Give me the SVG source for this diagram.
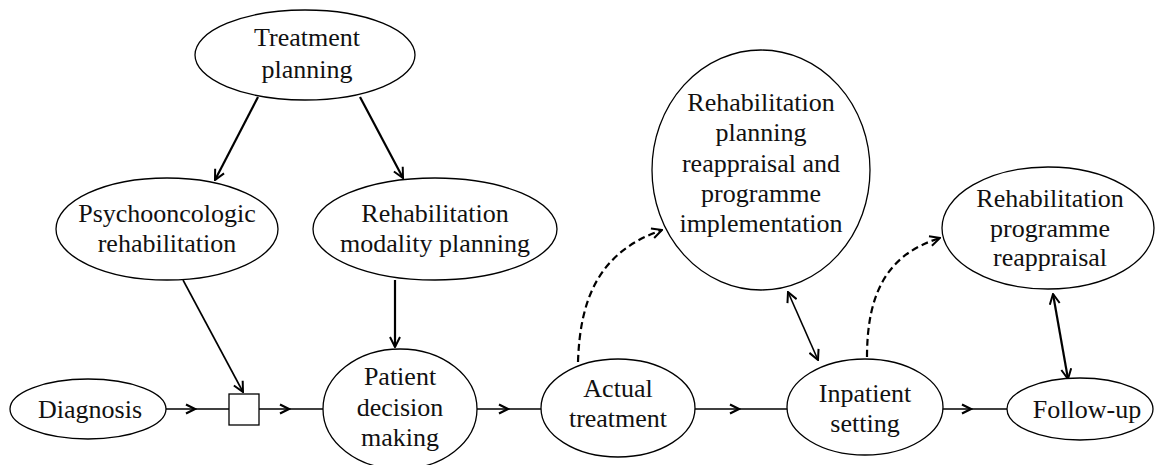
<svg xmlns="http://www.w3.org/2000/svg" width="1156" height="465" viewBox="0 0 1156 465">
<style>
.node ellipse, .node rect { fill: #fff; stroke: #000; stroke-width: 1.3; }
.node text { font-family: "Liberation Serif", "Times New Roman", serif; font-size: 26px; fill: #111; text-anchor: middle; }
.c { fill: none; stroke: #000; stroke-width: 1.6; }
.thick { stroke-width: 2.2; }
.dash { fill: none; stroke: #000; stroke-width: 2.2; stroke-dasharray: 7 4; }
</style>
<defs>
<marker id="arr" viewBox="0 0 12 12" refX="11" refY="6" markerWidth="12" markerHeight="12" markerUnits="userSpaceOnUse" orient="auto-start-reverse">
<path d="M1,1 L11,6 L1,11" fill="none" stroke="#000" stroke-width="2"/>
</marker>
<marker id="chev" viewBox="0 0 12 12" refX="10" refY="6" markerWidth="12" markerHeight="12" markerUnits="userSpaceOnUse" orient="auto">
<path d="M1,1.5 L10,6 L1,10.5" fill="none" stroke="#000" stroke-width="2.2"/>
</marker>
</defs>
<g id="connectors">
<path class="c thick" d="M258,97 L215,180" marker-end="url(#arr)"/>
<path class="c thick" d="M360,97 L403,178" marker-end="url(#arr)"/>
<path class="c" d="M183,280 L243,392" marker-end="url(#arr)"/>
<path class="c thick" d="M395,280 L395,347" marker-end="url(#arr)"/>
<path class="c" d="M166,409 L195,409 L229,409" marker-mid="url(#chev)"/>
<path class="c" d="M259,409 L289,409 L323,409" marker-mid="url(#chev)"/>
<path class="c" d="M477,409 L508,409 L541,409" marker-mid="url(#chev)"/>
<path class="c" d="M695,409 L739,409 L787,409" marker-mid="url(#chev)"/>
<path class="c" d="M943,409 L971,409 L1007,409" marker-mid="url(#chev)"/>
<path class="dash" d="M578,362 C580,300 598,252 662,230" marker-end="url(#arr)"/>
<path class="dash" d="M867,357 C867,292 888,254 940,238" marker-end="url(#arr)"/>
<path class="c" d="M788,292 L818,360" marker-start="url(#arr)" marker-end="url(#arr)"/>
<path class="c thick" d="M1053,294 L1068,379" marker-start="url(#arr)" marker-end="url(#arr)"/>
</g>
<g id="treatment-planning" class="node">
<ellipse cx="305" cy="55" rx="110" ry="45"/>
<text x="307" y="46">Treatment</text>
<text x="307" y="78">planning</text>
</g>
<g id="psychooncologic" class="node">
<ellipse cx="167" cy="229" rx="111" ry="51"/>
<text x="167" y="222">Psychooncologic</text>
<text x="167" y="252">rehabilitation</text>
</g>
<g id="modality-planning" class="node">
<ellipse cx="435" cy="229" rx="122" ry="51"/>
<text x="435" y="222">Rehabilitation</text>
<text x="435" y="252">modality planning</text>
</g>
<g id="diagnosis" class="node">
<ellipse cx="88" cy="409" rx="78" ry="30"/>
<text x="90" y="418">Diagnosis</text>
</g>
<g id="junction" class="node">
<rect x="229" y="394" width="30" height="31"/>
</g>
<g id="patient-decision" class="node">
<ellipse cx="400" cy="409" rx="77" ry="60"/>
<text x="400" y="385">Patient</text>
<text x="400" y="416">decision</text>
<text x="400" y="446">making</text>
</g>
<g id="actual-treatment" class="node">
<ellipse cx="618" cy="408" rx="77" ry="49"/>
<text x="618" y="397">Actual</text>
<text x="618" y="427">treatment</text>
</g>
<g id="planning-reappraisal" class="node">
<ellipse cx="761" cy="170" rx="109" ry="120"/>
<text x="761" y="111">Rehabilitation</text>
<text x="761" y="141">planning</text>
<text x="761" y="172">reappraisal and</text>
<text x="761" y="202">programme</text>
<text x="761" y="232">implementation</text>
</g>
<g id="inpatient-setting" class="node">
<ellipse cx="865" cy="407" rx="78" ry="48"/>
<text x="865" y="402">Inpatient</text>
<text x="865" y="432">setting</text>
</g>
<g id="programme-reappraisal" class="node">
<ellipse cx="1048" cy="228" rx="106" ry="61"/>
<text x="1050" y="207">Rehabilitation</text>
<text x="1050" y="237">programme</text>
<text x="1050" y="266">reappraisal</text>
</g>
<g id="follow-up" class="node">
<ellipse cx="1080" cy="409" rx="73" ry="31"/>
<text x="1087" y="418">Follow-up</text>
</g>
</svg>
